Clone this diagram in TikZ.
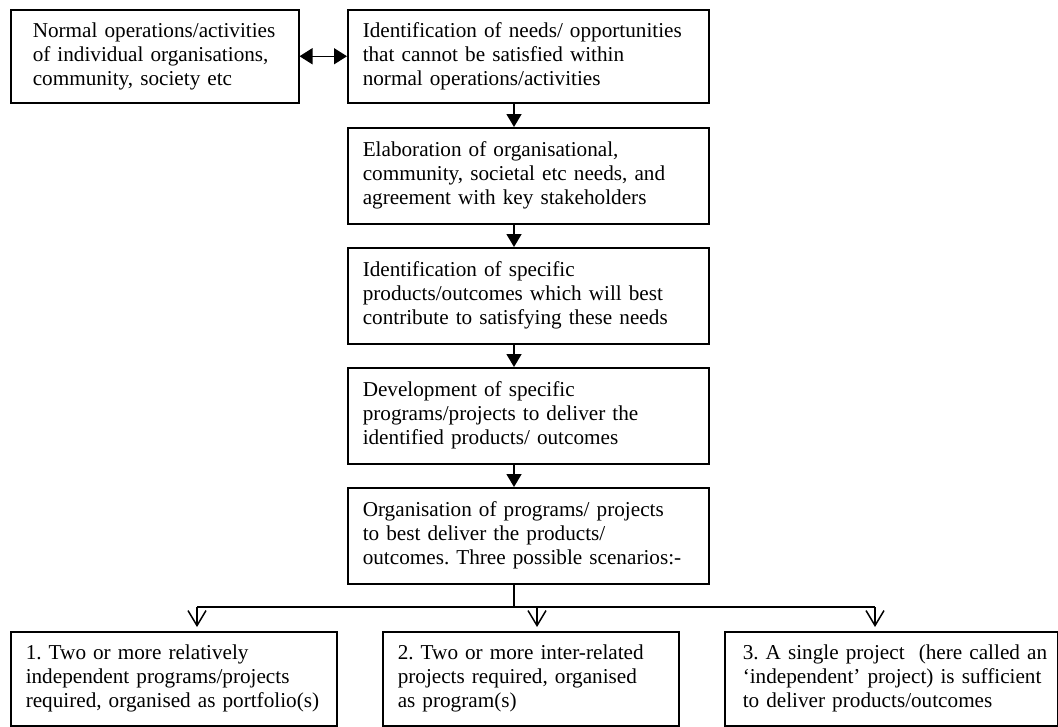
\documentclass[tikz,border=0pt]{standalone}
\usepackage{fontspec}
\setmainfont{Liberation Serif}
\usetikzlibrary{arrows.meta}
\frenchspacing
\begin{document}
\begin{tikzpicture}[x=1pt,y=-1pt,
  box/.style={draw, line width=1.5pt, rectangle, anchor=north west, align=left,
    font=\fontsize{21.2}{24}\selectfont, inner ysep=0pt},
  conn/.style={line width=1.5pt},
  fillarrow/.style={conn, -{Triangle[length=13pt,width=15pt]}},
  openarrow/.style={conn, -{Straight Barb[length=15pt,width=18pt]}, shorten >=4pt}
]
\useasboundingbox (0,0) rectangle (1058,726);

\node[box, minimum width=288pt, minimum height=93pt, inner xsep=22pt, text width=244pt] (L) at (10,9)
  {\mbox{Normal operations/activities}\\ \mbox{of individual organisations,}\\ \mbox{community, society etc}};
\node[box, minimum width=361pt, minimum height=93pt, inner xsep=15pt, text width=331pt] (C1) at (347,9)
  {\mbox{Identification of needs/ opportunities}\\ \mbox{that cannot be satisfied within}\\ \mbox{normal operations/activities}};
\node[box, minimum width=361pt, minimum height=96pt, inner xsep=15pt, text width=331pt] (C2) at (347,127)
  {\mbox{Elaboration of organisational,}\\ \mbox{community, societal etc needs, and}\\ \mbox{agreement with key stakeholders}};
\node[box, minimum width=361pt, minimum height=96pt, inner xsep=15pt, text width=331pt] (C3) at (347,247)
  {\mbox{Identification of specific}\\ \mbox{products/outcomes which will best}\\ \mbox{contribute to satisfying these needs}};
\node[box, minimum width=361pt, minimum height=96pt, inner xsep=15pt, text width=331pt] (C4) at (347,367)
  {\mbox{Development of specific}\\ \mbox{programs/projects to deliver the}\\ \mbox{identified products/ outcomes}};
\node[box, minimum width=361pt, minimum height=96pt, inner xsep=15pt, text width=331pt] (C5) at (347,487)
  {\mbox{Organisation of programs/ projects}\\ \mbox{to best deliver the products/}\\ \mbox{outcomes. Three possible scenarios:-}};
\node[box, minimum width=326pt, minimum height=94pt, inner xsep=15pt, text width=296pt] (B1) at (10,631)
  {\mbox{1. Two or more relatively}\\ \mbox{independent programs/projects}\\ \mbox{required, organised as portfolio(s)}};
\node[box, minimum width=296pt, minimum height=94pt, inner xsep=15pt, text width=266pt] (B2) at (382,631)
  {\mbox{2. Two or more inter-related}\\ \mbox{projects required, organised}\\ \mbox{as program(s)}};
\node[box, minimum width=333pt, minimum height=94pt, inner xsep=18pt, text width=297pt] (B3) at (724,631)
  {\mbox{3. A single project\ \ (here called an}\\ \mbox{`independent' project) is sufficient}\\ \mbox{to deliver products/outcomes}};

\coordinate (ax) at (514,0);
\coordinate (a1) at (197,607);
\coordinate (a2) at (537,607);
\coordinate (a3) at (875,607);

\draw[conn, {Triangle[length=13pt,width=16pt]}-{Triangle[length=13pt,width=16pt]}] (L.east) -- (C1.west);
\draw[fillarrow] (C1.south -| ax) -- (C2.north -| ax);
\draw[fillarrow] (C2.south -| ax) -- (C3.north -| ax);
\draw[fillarrow] (C3.south -| ax) -- (C4.north -| ax);
\draw[fillarrow] (C4.south -| ax) -- (C5.north -| ax);
\draw[conn] (C5.south -| ax) -- (ax |- a1);
\draw[conn] (a1) -- (a3);
\draw[openarrow] (a1) -- (a1 |- B1.north);
\draw[openarrow] (a2) -- (a2 |- B2.north);
\draw[openarrow] (a3) -- (a3 |- B3.north);
\end{tikzpicture}
\end{document}
